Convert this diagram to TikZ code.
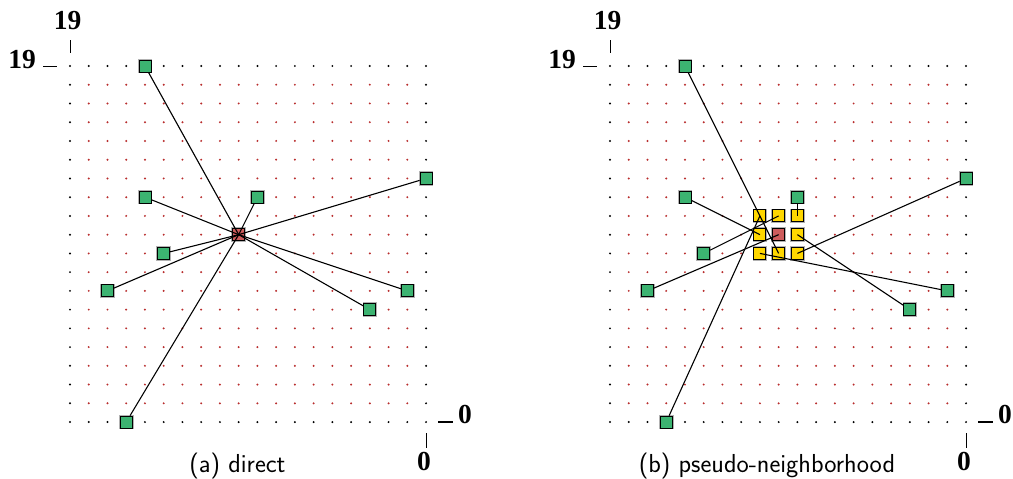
\documentclass[tikz,border=0pt]{standalone}
\usepackage{fontspec}
\newfontfamily\labfont{Liberation Serif}
\definecolor{gsq}{RGB}{60,179,113}
\definecolor{rsq}{RGB}{205,92,92}
\definecolor{ysq}{RGB}{255,215,0}
\definecolor{reddot}{RGB}{185,45,45}
\tikzset{
  sq/.style={rectangle, minimum size=12pt, inner sep=0pt, draw=black, line width=0.9pt,
    preaction={draw=black!30, line width=2.6pt}},
  gsqr/.style={sq, fill=gsq},
  rsqr/.style={sq, fill=rsq},
  ysqr/.style={sq, fill=ysq},
  link/.style={line width=1.1pt, black},
  lab/.style={inner sep=0pt, font=\labfont\bfseries\fontsize{27.5}{27.5}\selectfont},
  captext/.style={inner sep=0pt, font=\sffamily\fontsize{26}{26}\selectfont},
  vtick/.style={line width=1pt, black},
  htick/.style={line width=1.5pt, black},
  panel/.style={x=18.74pt, y=-18.74pt}
}
\newcommand{\dotgrid}{%
  \foreach \i in {1,...,18}{\foreach \j in {1,...,18}{\fill[reddot] (\i,\j) circle (1.1pt);}}
  \foreach \i in {0,...,19}{\fill[black] (\i,0) circle (1.1pt); \fill[black] (\i,19) circle (1.1pt);}
  \foreach \j in {1,...,18}{\fill[black] (0,\j) circle (1.1pt); \fill[black] (19,\j) circle (1.1pt);}
}
\begin{document}
\begin{tikzpicture}[x=1pt, y=-1pt]
\useasboundingbox[fill=white] (0,0) rectangle (1013,479);

% ---------- panel (a) ----------
\begin{scope}[shift={(70pt,-66pt)}, panel]
  \dotgrid
  \node[rsqr] (ra) at (9,9) {};
  \node[gsqr] (ga1) at (4,0) {};
  \node[gsqr] (ga2) at (4,7) {};
  \node[gsqr] (ga3) at (10,7) {};
  \node[gsqr] (ga4) at (19,6) {};
  \node[gsqr] (ga5) at (5,10) {};
  \node[gsqr] (ga6) at (2,12) {};
  \node[gsqr] (ga7) at (18,12) {};
  \node[gsqr] (ga8) at (16,13) {};
  \node[gsqr] (ga9) at (3,19) {};
  \foreach \g in {ga1,ga2,ga3,ga4,ga5,ga6,ga7,ga8,ga9}{\draw[link] (\g) -- (ra.center);}
\end{scope}

\node[lab, anchor=base] (tya) at (67.5,29) {19};
\draw[vtick] (70,40) -- (70,53);
\node[lab, anchor=base east] (lya) at (36,68) {19};
\draw[htick] (43,66.5) -- (57,66.5);
\node[lab, anchor=base west] (rxa) at (458,423) {0};
\draw[htick] (438,422) -- (453,422);
\node[lab, anchor=base] (bxa) at (424,470) {0};
\draw[vtick] (426,433) -- (426,448);
\node[captext, anchor=base] (capa) at (237.5,472) {(a) direct};

% ---------- panel (b) ----------
\begin{scope}[shift={(610pt,-66pt)}, panel]
  \dotgrid
  \node[rsqr] (rb) at (9,9) {};
  \node[ysqr] (y88) at (8,8) {};
  \node[ysqr] (y98) at (9,8) {};
  \node[ysqr] (y108) at (10,8) {};
  \node[ysqr] (y89) at (8,9) {};
  \node[ysqr] (y109) at (10,9) {};
  \node[ysqr] (y810) at (8,10) {};
  \node[ysqr] (y910) at (9,10) {};
  \node[ysqr] (y1010) at (10,10) {};
  \node[gsqr] (gb1) at (4,0) {};
  \node[gsqr] (gb2) at (4,7) {};
  \node[gsqr] (gb3) at (10,7) {};
  \node[gsqr] (gb4) at (19,6) {};
  \node[gsqr] (gb5) at (5,10) {};
  \node[gsqr] (gb6) at (2,12) {};
  \node[gsqr] (gb7) at (18,12) {};
  \node[gsqr] (gb8) at (16,13) {};
  \node[gsqr] (gb9) at (3,19) {};
  \draw[link] (gb1) -- (y910.center);
  \draw[link] (gb2) -- (y89.center);
  \draw[link] (gb3) -- (y108.center);
  \draw[link] (gb4) -- (y1010.center);
  \draw[link] (gb5) -- (y98.center);
  \draw[link] (gb6) -- (rb.center);
  \draw[link] (gb7) -- (y810.center);
  \draw[link] (gb8) -- (y109.center);
  \draw[link] (gb9) -- (y88.center);
\end{scope}

\node[lab, anchor=base] (tyb) at (607.5,29) {19};
\draw[vtick] (610,40) -- (610,53);
\node[lab, anchor=base east] (lyb) at (576,68) {19};
\draw[htick] (583,66.5) -- (597,66.5);
\node[lab, anchor=base west] (rxb) at (998,423) {0};
\draw[htick] (978,422) -- (993,422);
\node[lab, anchor=base] (bxb) at (964,470) {0};
\draw[vtick] (966,433) -- (966,448);
\node[captext, anchor=base] (capb) at (767,472) {(b) pseudo-neighborhood};
\end{tikzpicture}
\end{document}
